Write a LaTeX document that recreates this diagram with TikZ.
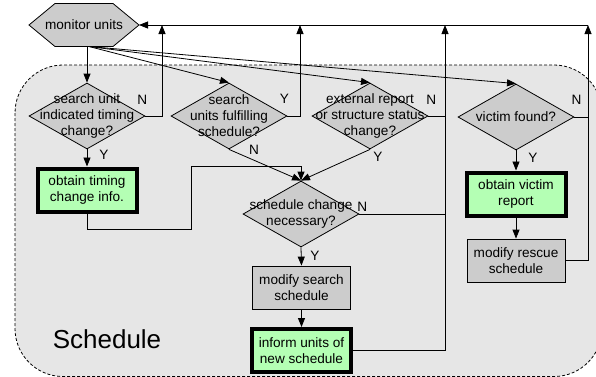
\documentclass[tikz,border=0pt]{standalone}
\usepackage{fontspec}
\setmainfont{Liberation Sans}
\usetikzlibrary{shapes.geometric,arrows.meta}

\definecolor{regiongray}{RGB}{230,230,230}
\definecolor{shapegray}{RGB}{204,204,204}
\definecolor{notegreen}{RGB}{180,255,180}

\tikzset{every picture/.style={line width=0.8pt},
  txt/.style={font=\fontsize{13.6}{16}\selectfont, align=center, inner sep=0pt},
  decision/.style={diamond, draw, fill=shapegray, minimum width=116, minimum height=66, inner sep=0pt},
  notebox/.style={txt, draw, line width=4pt, fill=notegreen, minimum width=99, minimum height=43},
  actbox/.style={txt, draw, fill=shapegray, minimum width=98, minimum height=43},
  arr/.style={-{Triangle[length=9pt,width=7pt]}}
}

\begin{document}
\begin{tikzpicture}[x=1pt,y=1pt,yscale=-1,xscale=1]
\useasboundingbox (0,0) rectangle (596,376);

%Shape: Rounded Rectangle (schedule region)
\draw [dash pattern={on 3pt off 2pt}, fill=regiongray, rounded corners=48] (15,65) rectangle (602,376.5);
% Text Node
\node [txt, font=\fontsize{26}{30}\selectfont] (schedlbl) at (107,339) {Schedule};

%Shape: Hexagon
\draw [fill=shapegray] (29,25) -- (55,3.5) -- (113,3.5) -- (139,25) -- (113,46.5) -- (55,46.5) -- cycle;
\node [txt, minimum width=110, minimum height=43, outer sep=0pt] (mon) at (84,25) {monitor units};

%Shape: Diamonds
\node [decision] (d1) at (87,116) {};
\node [txt] (d1t) at (d1) {search unit\\indicated timing\\change?};
\node [decision] (d2) at (229,116) {};
\node [txt] (d2t) at (d2) {search\\units fulfilling\\schedule?};
\node [decision] (d3) at (370,116) {};
\node [txt] (d3t) at (d3) {external report\\or structure status\\change?};
\node [decision] (d4) at (516,117) {};
\node [txt] (d4t) at (d4) {victim found?};
\node [decision] (d5) at (301,214) {};
\node [txt] (d5t) at (d5) {schedule change\\necessary?};

%Shape: Rectangles
\node [notebox] (tbox) at (87,190) {obtain timing\\change info.};
\node [notebox] (vbox) at (516,194) {obtain victim\\report};
\node [actbox] (rescue) at (516,260.5) {modify rescue\\schedule};
\node [actbox] (search) at (301.5,287.5) {modify search\\schedule};
\node [notebox] (inform) at (301.5,350.5) {inform units of\\new schedule};

%Return points on the top line
\coordinate (ret1) at (162,25);
\coordinate (ret2) at (300,25);
\coordinate (ret3) at (445,25);
\coordinate (ret4) at (588,25);
\coordinate (fan) at ([xshift=5pt]mon.south);

%Straight Lines
\draw [arr] (mon.south -| d1.north) -- (d1.north);
\draw [arr] (fan) -- (d2.north);
\draw [arr] (fan) -- (d3.north);
\draw [arr] (fan) -- (d4.north);
\draw [arr] (ret4) -- (mon.east);
\draw [arr] (d1.east) -| (ret1);
\draw [arr] (d2.east) -| (ret2);
\draw [arr] (inform.east) -| (ret3);
\draw (d3.east) -- (d3.east -| ret3);
\draw (d5.east) -- (d5.east -| ret3);
\draw [arr] (rescue.east) -| (ret4);
\draw (d4.east) -- (d4.east -| ret4);
\draw [arr] (d1.south) -- (tbox.north);
\draw [arr] (tbox.south) -- ++(0,16) -| ++(104,-63) -| (d5.north);
\draw [arr] (d2.south) -- (d5.north);
\draw [arr] (d3.south) -- (d5.north);
\draw [arr] (d4.south) -- (vbox.north);
\draw [arr] (vbox.south) -- (rescue.north);
\draw [arr] (d5.south) -- (search.north);
\draw [arr] (search.south) -- (inform.north);

% Text Node
\node [txt] (d1n) at ([shift={(-3,-16)}]d1.east) {N};
\node [txt] (d1y) at ([shift={(17,5)}]d1.south) {Y};
\node [txt] (d2y) at ([shift={(-3,-17)}]d2.east) {Y};
\node [txt] (d2n) at ([shift={(25,0)}]d2.south) {N};
\node [txt] (d3n) at ([shift={(3,-16)}]d3.east) {N};
\node [txt] (d3y) at ([shift={(8,7)}]d3.south) {Y};
\node [txt] (d4n) at ([shift={(2,-17)}]d4.east) {N};
\node [txt] (d4y) at ([shift={(17,7)}]d4.south) {Y};
\node [txt] (d5n) at ([shift={(3,-7)}]d5.east) {N};
\node [txt] (d5y) at ([shift={(14,8)}]d5.south) {Y};

\end{tikzpicture}
\end{document}
